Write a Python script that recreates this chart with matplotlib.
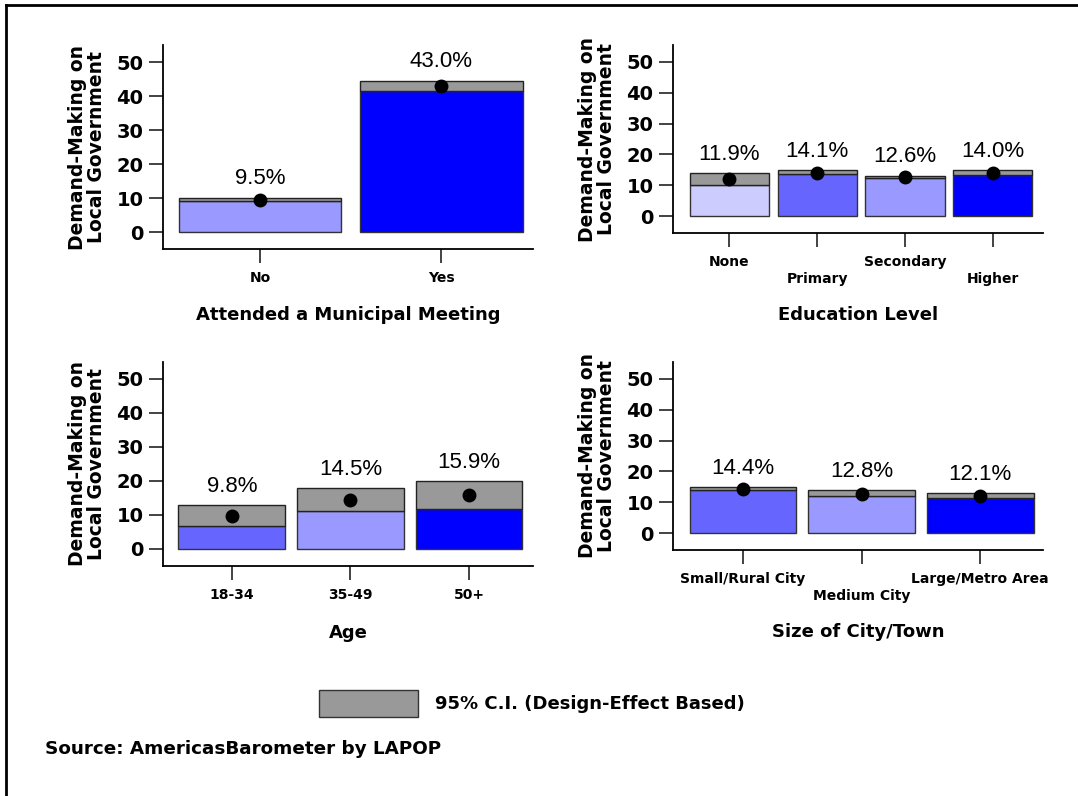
import matplotlib
matplotlib.use("Agg")
import matplotlib.pyplot as plt
from matplotlib.patches import Rectangle
from matplotlib.lines import Line2D

# panel data: category labels, mean, lower / upper 95% CI
att_cats = ["No", "Yes"]
att_val = [9.5, 43.0]
att_lo = [9.1, 41.5]
att_hi = [10.1, 44.5]

edu_cats = ["None", "Primary", "Secondary", "Higher"]
edu_val = [11.9, 14.1, 12.6, 14.0]
edu_lo = [10.1, 13.5, 12.2, 13.4]
edu_hi = [13.9, 15.0, 13.1, 14.8]

age_cats = ["18-34", "35-49", "50+"]
age_val = [9.8, 14.5, 15.9]
age_lo = [6.9, 11.3, 11.8]
age_hi = [12.9, 17.9, 20.0]

size_cats = ["Small/Rural City", "Medium City", "Large/Metro Area"]
size_val = [14.4, 12.8, 12.1]
size_lo = [13.9, 11.9, 11.5]
size_hi = [15.0, 13.9, 12.9]

W, H = 1078, 796
fig = plt.figure(figsize=(W / 100, H / 100), dpi=100)
fig.patch.set_facecolor("white")

c1, c2, c3, c4 = "#CCCCFF", "#9999FF", "#6666FF", "#0000FF"
ci_gray = "#999999"
ylab = "Demand-Making on\nLocal Government"


def px_axes(left, top, right, bottom):
    return fig.add_axes([left / W, 1 - bottom / H, (right - left) / W, (bottom - top) / H])


def panel(box, cats, val, lo, hi, colors, xlim, ylim, title, title_y, stagger=False):
    ax = px_axes(*box)
    x = list(range(len(cats)))
    ax.bar(x, lo, width=0.9, color=colors, edgecolor="#333333", linewidth=1.0)
    ax.bar(x, [h - l for h, l in zip(hi, lo)], bottom=lo, width=0.9,
           color=ci_gray, edgecolor="#222222", linewidth=1.0)
    ax.plot(x, val, "o", color="black", ms=9, zorder=5)
    for xi, v, h in zip(x, val, hi):
        ax.annotate(f"{v:.1f}%", (xi, h), xytext=(0, 13.5), textcoords="offset points",
                    ha="center", va="center", fontsize=16, family="Liberation Sans")
    ax.set_xlim(*xlim)
    ax.set_ylim(*ylim)
    ax.set_yticks([0, 10, 20, 30, 40, 50])
    ax.set_xticks(x)
    if stagger:
        labs = [c if i % 2 == 0 else "\n" + c for i, c in enumerate(cats)]
    else:
        labs = cats
    ax.set_xticklabels(labs, fontsize=10, fontweight="bold", linespacing=1.25)
    for t in ax.get_yticklabels():
        t.set_fontsize(14)
        t.set_fontweight("bold")
    ax.tick_params(axis="both", direction="out", length=10, width=1.2, color="#222222")
    ax.tick_params(axis="y", pad=4)
    ax.tick_params(axis="x", pad=6)
    ax.spines["top"].set_visible(False)
    ax.spines["right"].set_visible(False)
    ax.spines["left"].set_linewidth(1.3)
    ax.spines["bottom"].set_linewidth(1.3)
    left, top, right, bottom = box
    fig.text((left - 76) / W, 1 - ((top + bottom) / 2) / H, ylab, rotation=90,
             ha="center", va="center", fontsize=13.5, fontweight="bold", linespacing=1.05)
    fig.text(((left + right) / 2) / W, 1 - title_y / H, title,
             ha="center", va="center", fontsize=13, fontweight="bold")
    return ax


panel((163, 45, 533, 249), att_cats, att_val, att_lo, att_hi, [c2, c4],
      (-0.536, 1.508), (-5, 55), "Attended a Municipal Meeting", 315)
panel((673, 45, 1043, 233), edu_cats, edu_val, edu_lo, edu_hi, [c1, c3, c2, c4],
      (-0.64, 3.57), (-5.5, 55.5), "Education Level", 315, stagger=True)
panel((163, 362, 533, 566), age_cats, age_val, age_lo, age_hi, [c3, c2, c4],
      (-0.58, 2.54), (-5, 55), "Age", 633)
panel((673, 362, 1043, 550), size_cats, size_val, size_lo, size_hi, [c3, c2, c4],
      (-0.59, 2.53), (-5.5, 55.5), "Size of City/Town", 632, stagger=True)

# legend for the CI band
fig.patches.append(Rectangle((319 / W, 1 - 717 / H), 99 / W, 27 / H, transform=fig.transFigure,
                             facecolor=ci_gray, edgecolor="#333333", linewidth=1.0))
fig.text(435 / W, 1 - 704 / H, "95% C.I. (Design-Effect Based)", ha="left", va="center",
         fontsize=13, fontweight="bold")
fig.text(45 / W, 1 - 749 / H, "Source: AmericasBarometer by LAPOP", ha="left", va="center",
         fontsize=13.2, fontweight="bold")

# frame lines (top and left)
fig.lines.append(Line2D([6 / W, 1], [1 - 5 / H, 1 - 5 / H], transform=fig.transFigure,
                        color="black", linewidth=2))
fig.lines.append(Line2D([6 / W, 6 / W], [0, 1 - 5 / H], transform=fig.transFigure,
                        color="black", linewidth=2))

fig.savefig("out.png", dpi=100)
